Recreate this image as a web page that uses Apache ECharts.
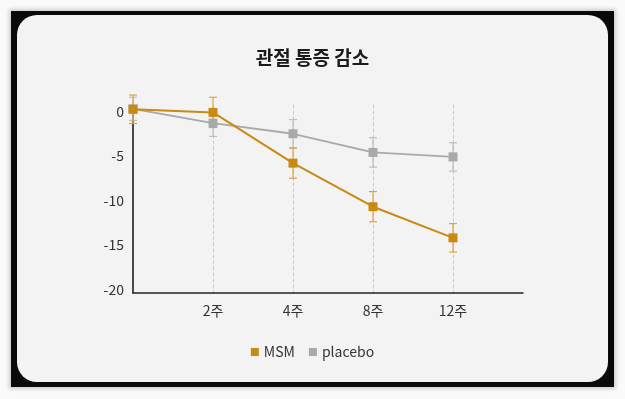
<!DOCTYPE html>
<html>
<head>
<meta charset="utf-8">
<script src="https://cdn.jsdelivr.net/npm/echarts@6/dist/echarts.min.js"></script>
<style>
  html, body { margin: 0; padding: 0; background: #fafafa; }
  .frame {
    position: absolute; left: 11px; top: 11px; width: 603px; height: 376px;
    background: #0a0a0a; box-shadow: 0 0 4px 2px rgba(0,0,0,0.18);
  }
  .card {
    position: absolute; left: 17px; top: 15px; width: 591px; height: 367px;
    background: #f3f3f3; border-radius: 20px;
  }
  #chart { position: absolute; left: 0; top: 0; width: 625px; height: 399px; }
</style>
</head>
<body>
<div class="frame"></div>
<div class="card"></div>
<div id="chart"></div>
<script>
// 주차 (0 = 시작)
const weekLabels = ['', '2주', '4주', '8주', '12주']
const msm = [0.25, -0.1, -5.8, -10.7, -14.2]
const msmErr = [1.6, 1.7, 1.7, 1.7, 1.6]
const placebo = [0.3, -1.3, -2.5, -4.6, -5.1]
const placeboErr = [1.3, 1.5, 1.6, 1.65, 1.6]

const MSM_COLOR = '#C98A14'
const PLACEBO_COLOR = '#A9A9A9'

let myChart = echarts.init(document.getElementById('chart'))

const errSeries = (name, vals, errs, color) => ({
  name: name + '_err',
  type: 'custom',
  silent: true,
  z: 1,
  data: vals.map((v, i) => [i, v, errs[i]]),
  renderItem: (params, api) => {
    let x = api.value(0)
    let top = api.coord([x, api.value(1) + api.value(2)])
    let bot = api.coord([x, api.value(1) - api.value(2)])
    let w = 4
    let style = { stroke: color, lineWidth: 1.2 }
    return {
      type: 'group',
      children: [
        { type: 'line', shape: { x1: top[0], y1: top[1], x2: bot[0], y2: bot[1] }, style },
        { type: 'line', shape: { x1: top[0] - w, y1: top[1], x2: top[0] + w, y2: top[1] }, style },
        { type: 'line', shape: { x1: bot[0] - w, y1: bot[1], x2: bot[0] + w, y2: bot[1] }, style }
      ]
    }
  }
})

let option = {
  textStyle: { fontFamily: 'Noto Sans CJK KR' },
  title: {
    text: '관절 통증 감소',
    left: 'center',
    top: 43,
    textStyle: { fontSize: 19, fontWeight: 'bold', color: '#1b1b1b', fontFamily: 'Noto Sans CJK KR' }
  },
  legend: {
    data: ['MSM', 'placebo'],
    bottom: 35,
    left: 'center',
    icon: 'rect',
    itemWidth: 8,
    itemHeight: 8,
    itemGap: 14,
    textStyle: { fontSize: 14, color: '#333', fontFamily: 'Noto Sans CJK KR' }
  },
  grid: { left: 133, right: 102, top: 104.4, bottom: 106 },
  xAxis: {
    type: 'value',
    min: 0,
    max: 4.875,
    interval: 1,
    axisLine: { onZero: false, lineStyle: { color: '#222', width: 1.5 } },
    axisTick: { show: false },
    axisLabel: {
      margin: 11,
      fontSize: 14,
      color: '#333',
      formatter: v => weekLabels[v] || ''
    },
    splitLine: {
      show: true,
      showMinLine: false,
      showMaxLine: false,
      lineStyle: { type: 'dashed', color: '#c8c8c8', width: 1 }
    }
  },
  yAxis: {
    type: 'value',
    min: -20.4,
    max: 0.8,
    axisLine: { show: true, onZero: false, lineStyle: { color: '#111', width: 1.5 } },
    axisTick: { show: false },
    splitLine: { show: false },
    axisLabel: {
      margin: 9,
      fontSize: 14,
      color: '#333',
      formatter: v => (Math.abs(v % 5) < 1e-6 ? String(v) : '')
    }
  },
  series: [
    errSeries('placebo', placebo, placeboErr, '#BEBEBE'),
    errSeries('MSM', msm, msmErr, '#D9A54C'),
    {
      name: 'placebo',
      type: 'line',
      z: 2,
      data: placebo.map((v, i) => [i, v]),
      symbol: 'rect',
      symbolSize: 9,
      color: PLACEBO_COLOR,
      lineStyle: { width: 1.8, color: PLACEBO_COLOR },
      itemStyle: { color: PLACEBO_COLOR }
    },
    {
      name: 'MSM',
      type: 'line',
      z: 3,
      data: msm.map((v, i) => [i, v]),
      symbol: 'rect',
      symbolSize: 9,
      color: MSM_COLOR,
      lineStyle: { width: 2, color: MSM_COLOR },
      itemStyle: { color: MSM_COLOR }
    }
  ]
}
myChart.setOption(option)
</script>
</body>
</html>
